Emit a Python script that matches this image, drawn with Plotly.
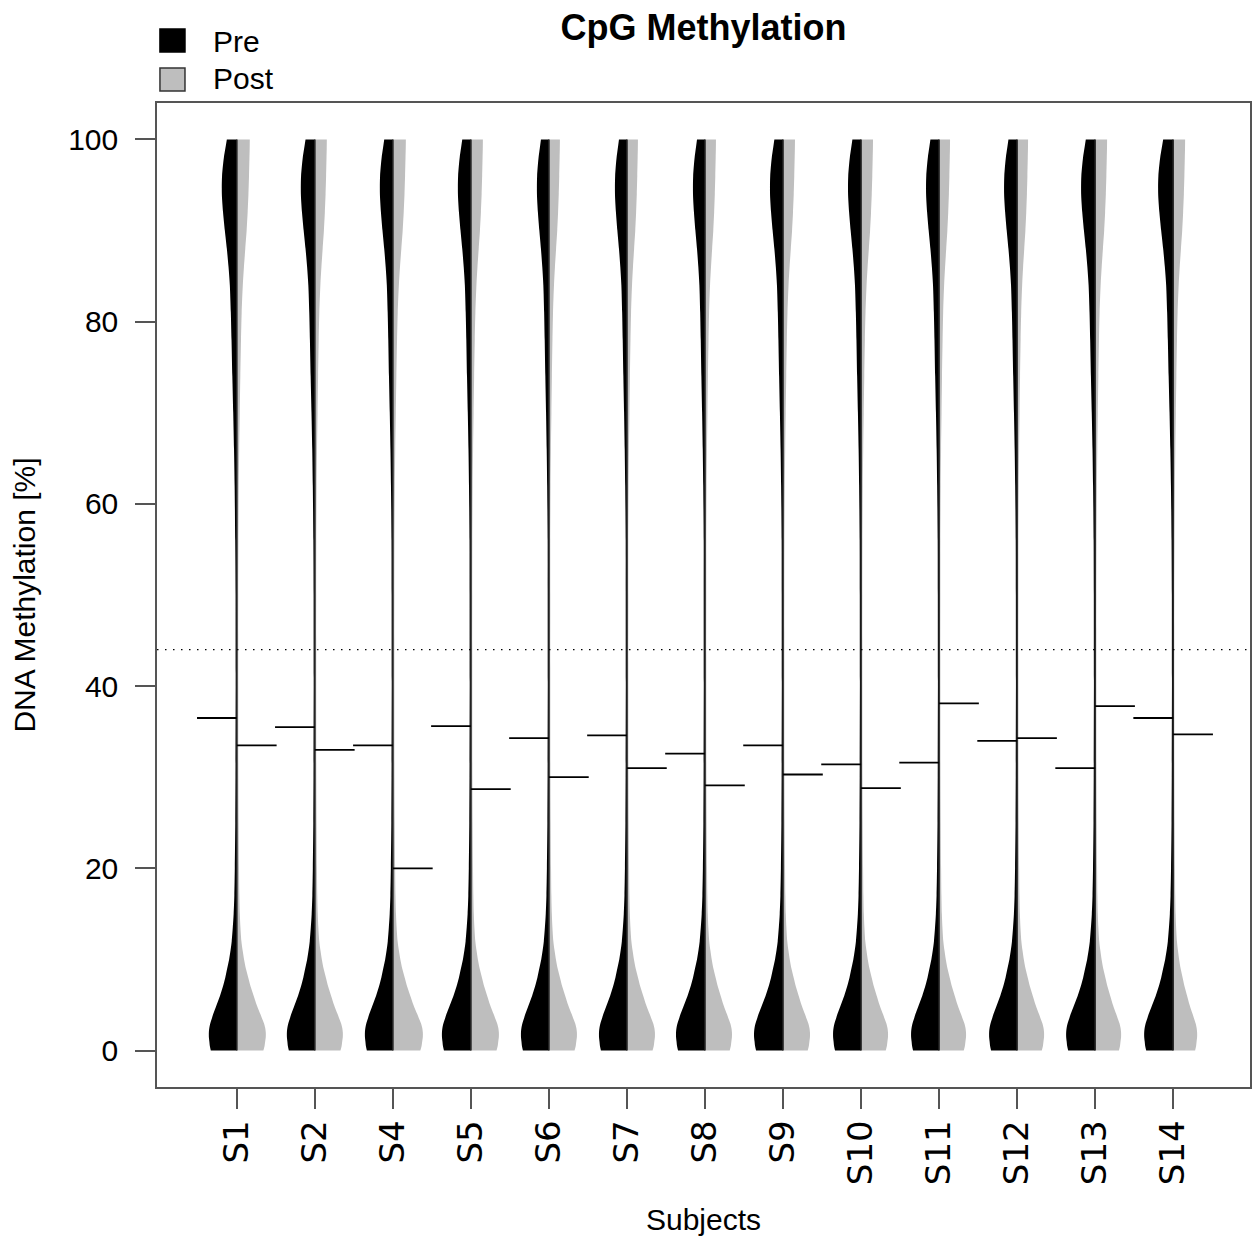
import plotly.graph_objects as go

# ---------------- data ----------------
subjects = ["S1", "S2", "S4", "S5", "S6", "S7", "S8", "S9", "S10", "S11", "S12", "S13", "S14"]
pre_mean = [36.5, 35.5, 33.5, 35.6, 34.3, 34.6, 32.6, 33.5, 31.4, 31.6, 34.0, 31.0, 36.5]
post_mean = [33.5, 33.0, 20.0, 28.7, 30.0, 31.0, 29.1, 30.3, 28.8, 38.1, 34.3, 37.8, 34.7]
reference_level = 44

# density profile (relative density) at methylation levels
levels = [0, 0.5, 1, 1.5, 2, 2.5, 3, 3.5, 4, 5, 6, 7, 8, 9, 10, 11, 12, 13.5, 15, 17, 20,
          25, 30, 40, 50, 56, 62, 66, 70, 74, 78, 81, 84, 86, 88, 90, 92, 94, 96, 98, 99, 100]
pre_density = [27, 28, 28.5, 29, 29, 28.5, 27.5, 26, 24.5, 21, 17.5, 14.5, 12, 10, 8, 6.5, 5.3, 4.2, 3.3, 2.6, 2.1,
               1.6, 1.4, 1.2, 1.3, 1.6, 2.2, 2.8, 3.6, 4.5, 5.3, 6, 7, 8.3, 10, 12, 13.8, 15, 14.8, 13, 11.5, 10]
post_density = [22, 23, 23.5, 24, 24, 23.5, 22.5, 21, 19.5, 16.5, 14, 11.5, 9.5, 7.5, 6, 4.8, 3.8, 3, 2.5, 2.1, 1.8,
                1.5, 1.3, 1.2, 1.2, 1.4, 1.7, 2.1, 2.6, 3.1, 3.7, 4.3, 5.3, 6.3, 7.5, 8.7, 9.6, 10.3, 10.8, 11.2, 11.4, 11.5]
# per-subject peak densities (low mode / high mode)
pre_low_peak = [28, 28, 28, 29, 28, 28, 29, 29, 28, 28, 28, 29, 29]
pre_high_peak = [15, 14, 13, 13, 12, 12, 12, 13, 13, 13, 13, 14, 15]
post_low_peak = [29, 28, 30, 28, 28, 28, 27, 27, 27, 27, 27, 26, 24]
post_high_peak = [13, 12, 13, 12, 11, 11, 11, 12, 12, 11, 11, 12, 12]

# ---------------- styles ----------------
PX_PER_UNIT = 78.17
PRE_COLOR = "black"
POST_COLOR = "#bebebe"
FRAME = "#555555"
MEAN_HALF = 0.51

base_low_pre, base_high_pre = max(pre_density[:24]), max(pre_density[24:])
base_low_post, base_high_post = max(post_density[:24]), max(post_density[24:])

fig = go.Figure()

for i, s in enumerate(subjects):
    for side, dens, lowp, highp, bl, bh, col, name in (
        (-1, pre_density, pre_low_peak[i], pre_high_peak[i], base_low_pre, base_high_pre, PRE_COLOR, "Pre"),
        (1, post_density, post_low_peak[i], post_high_peak[i], base_low_post, base_high_post, POST_COLOR, "Post"),
    ):
        widths = [d * ((lowp / bl) if y <= 50 else (highp / bh)) / PX_PER_UNIT
                  for y, d in zip(levels, dens)]
        fig.add_trace(go.Scatter(x=[i] * len(levels), y=levels, mode="lines",
                                 line=dict(width=0, color=col), hoverinfo="skip", showlegend=False))
        fig.add_trace(go.Scatter(x=[i + side * w for w in widths], y=levels, mode="lines",
                                 line=dict(width=0, color=col, shape="spline", smoothing=0.8),
                                 fill="tonextx", fillcolor=col, name=f"{name} {s}",
                                 hoverinfo="skip", showlegend=False))

# centre lines
cx, cy = [], []
for i in range(len(subjects)):
    cx += [i, i, None]
    cy += [0, 100, None]
fig.add_trace(go.Scatter(x=cx, y=cy, mode="lines", line=dict(color="#222222", width=1.6),
                         hoverinfo="skip", showlegend=False))

# mean lines
px_, py_, qx_, qy_ = [], [], [], []
for i in range(len(subjects)):
    px_ += [i - MEAN_HALF, i, None]
    py_ += [pre_mean[i], pre_mean[i], None]
    qx_ += [i, i + MEAN_HALF, None]
    qy_ += [post_mean[i], post_mean[i], None]
fig.add_trace(go.Scatter(x=px_, y=py_, mode="lines", line=dict(color="black", width=1.8),
                         name="Pre mean", showlegend=False))
fig.add_trace(go.Scatter(x=qx_, y=qy_, mode="lines", line=dict(color="black", width=1.8),
                         name="Post mean", showlegend=False))

# dotted reference line
fig.add_shape(type="line", xref="paper", x0=0, x1=1, yref="y", y0=reference_level, y1=reference_level,
              line=dict(color="black", width=1.3, dash="1.5px,6.5px"), layer="above")

# legend (drawn manually to match the square keys)
fig.add_shape(type="rect", xref="paper", yref="paper", x0=0.0027, x1=0.0256, y0=1.0518, y1=1.0752,
              fillcolor="black", line=dict(color="black", width=1.5))
fig.add_shape(type="rect", xref="paper", yref="paper", x0=0.0027, x1=0.0256, y0=1.0122, y1=1.0356,
              fillcolor=POST_COLOR, line=dict(color="#333333", width=1.5))
for label, yy in (("Pre", 1.063), ("Post", 1.0244)):
    fig.add_annotation(text=label, xref="paper", yref="paper", x=0.049, y=yy, xanchor="left",
                       yanchor="middle", showarrow=False,
                       font=dict(family="Liberation Sans", size=30, color="black"))

fig.update_layout(
    width=1253, height=1242,
    margin=dict(l=157, r=1, t=103, b=155),
    paper_bgcolor="white", plot_bgcolor="white",
    title=dict(text="<b>CpG Methylation</b>", x=0.5, xref="paper", xanchor="center",
               y=1 - 27 / 1242, yref="container", yanchor="middle",
               font=dict(family="Liberation Sans", size=36, color="black")),
    showlegend=False,
)
fig.update_xaxes(
    range=[-1.023, 12.985], tickmode="array", tickvals=list(range(len(subjects))), ticktext=subjects,
    tickangle=-90, ticks="outside", ticklen=20, tickwidth=1.5, tickcolor=FRAME,
    tickfont=dict(family="DejaVu Sans", size=34, color="black"), ticklabelstandoff=-2,
    showline=True, linecolor=FRAME, linewidth=1.5, mirror=True, showgrid=False, zeroline=False,
    title=dict(text="Subjects", standoff=25, font=dict(family="Liberation Sans", size=30, color="black")),
)
fig.update_yaxes(
    range=[-4, 104], tickmode="array", tickvals=[0, 20, 40, 60, 80, 100],
    ticks="outside", ticklen=20, tickwidth=1.5, tickcolor=FRAME,
    tickfont=dict(family="Liberation Sans", size=30, color="black"), ticklabelstandoff=11,
    showline=True, linecolor=FRAME, linewidth=1.5, mirror=True, showgrid=False, zeroline=False,
    title=dict(text="DNA Methylation [%]", standoff=24,
               font=dict(family="Liberation Sans", size=30, color="black")),
)

fig.write_html("out.html")
